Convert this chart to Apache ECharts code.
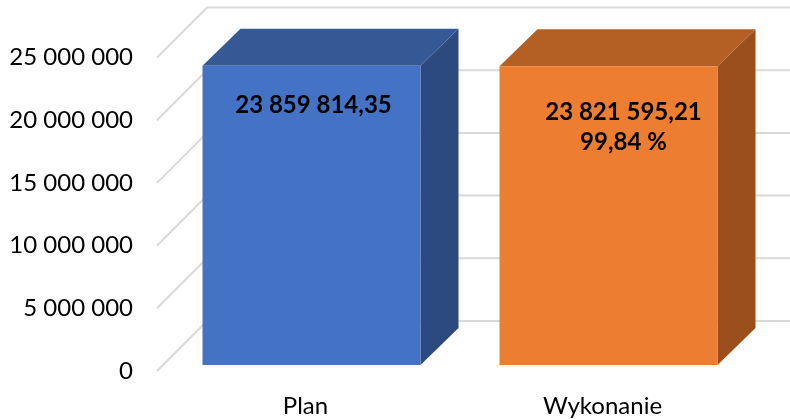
<!DOCTYPE html>
<html>
<head>
<meta charset="utf-8">
<script src="https://cdn.jsdelivr.net/npm/echarts@6/dist/echarts.min.js"></script>
<style>html,body{margin:0;padding:0;background:#fff;}#c{width:790px;height:419px;}</style>
</head>
<body>
<div id="c"></div>
<script>
const categories = ['Plan', 'Wykonanie'];
const values = [23859814.35, 23821595.21];
const yTicks = [0, 5000000, 10000000, 15000000, 20000000, 25000000];

function fmtNum(v, dec) {
  const s = v.toFixed(dec);
  const parts = s.split('.');
  const intPart = parts[0].replace(/\B(?=(\d{3})+(?!\d))/g, ' ');
  return parts.length > 1 ? intPart + ',' + parts[1] : intPart;
}
const pct = values[1] / values[0] * 100;
const labelTexts = [fmtNum(values[0], 2), fmtNum(values[1], 2) + '\n' + fmtNum(pct, 2) + ' %'];

const FACE = [
  { front: '#4472C4', top: '#345995', side: '#2C4A7E' },
  { front: '#ED7D31', top: '#B45F24', side: '#9B4F1D' }
];
const WALL_D = 50;      // depth of the back wall
const INSET = 6;        // bar front plane offset into depth
const BAR_D = [38, 37]; // bar depth dx, dy
const BAR_RATIO = 0.734;
const LABEL_OFF = [[2, 39], [15, 61]];

const chart = echarts.init(document.getElementById('c'), null, { renderer: 'canvas' });

function renderWall(params, api) {
  const v = api.value(0);
  const cs = params.coordSys;
  const y = api.coord([0, v])[1];
  const x0 = cs.x;
  const style = { stroke: '#D9D9D9', lineWidth: 2, fill: null };
  return {
    type: 'group',
    children: [
      { type: 'polyline', shape: { points: [[x0, y], [x0 + WALL_D, y - WALL_D], [790, y - WALL_D]] }, style: style, silent: true }
    ]
  };
}

function renderBar(params, api) {
  const idx = api.value(0), val = api.value(1);
  const top = api.coord([idx, val]);
  const base = api.coord([idx, 0]);
  const band = api.size([1, 0])[0];
  const hw = band * BAR_RATIO / 2;
  const cx = top[0] + INSET;
  const yt = top[1] - INSET, yb = base[1] - INSET;
  const xl = cx - hw, xr = cx + hw;
  const dx = BAR_D[0], dy = BAR_D[1];
  const f = FACE[params.dataIndex];
  const off = LABEL_OFF[params.dataIndex];
  return {
    type: 'group',
    children: [
      { type: 'polygon', shape: { points: [[xr, yt], [xr + dx, yt - dy], [xr + dx, yb - dy], [xr, yb]] }, style: { fill: f.side } },
      { type: 'polygon', shape: { points: [[xl, yt], [xl + dx, yt - dy], [xr + dx, yt - dy], [xr, yt]] }, style: { fill: f.top } },
      { type: 'rect', shape: { x: xl, y: yt, width: xr - xl, height: yb - yt }, style: { fill: f.front } },
      { type: 'text', style: { text: labelTexts[params.dataIndex], x: cx + off[0], y: yt + off[1], align: 'center', verticalAlign: 'middle', font: 'bold 24px Lato', fill: '#000', lineHeight: 30 } }
    ]
  };
}

chart.setOption({
  animation: false,
  grid: { left: 157, right: 39, top: 57.5, bottom: 48 },
  xAxis: {
    type: 'category',
    data: categories,
    axisLine: { show: false },
    axisTick: { show: false },
    axisLabel: { margin: 23, fontSize: 24, fontFamily: 'Lato', color: '#000' }
  },
  yAxis: {
    type: 'value',
    min: 0, max: 25000000, interval: 5000000,
    axisLine: { show: false },
    axisTick: { show: false },
    splitLine: { show: false },
    axisLabel: { margin: 24, fontSize: 24, fontFamily: 'Lato', color: '#000', formatter: function (v) { return fmtNum(v, 0); } }
  },
  series: [
    { type: 'custom', renderItem: renderWall, data: yTicks.map(function (v) { return [v]; }), encode: { y: 0 }, silent: true, z: 1, clip: false },
    { type: 'custom', renderItem: renderBar, data: values.map(function (v, i) { return [i, v]; }), encode: { x: 0, y: 1 }, z: 2, clip: false }
  ]
});
</script>
</body>
</html>
